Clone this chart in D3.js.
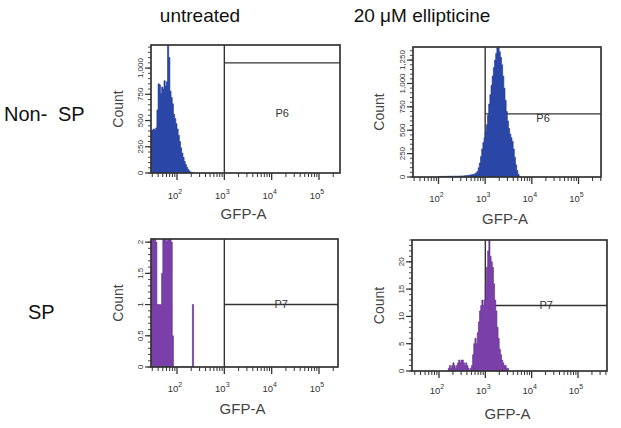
<!DOCTYPE html>
<html>
<head>
<meta charset="utf-8">
<script src="https://cdn.jsdelivr.net/npm/d3@7"></script>
<style>
  body { margin: 0; background: #fff; }
  svg { display: block; font-family: "Liberation Sans", Arial, sans-serif; }
</style>
</head>
<body>
<div id="chart"></div>
<script>
// headers
const colHeaders = ["untreated", "20 \u03bcM ellipticine"];
const rowHeaders = ["Non- SP", "SP"];

// histograms: counts per log10(GFP-A) bin of width binStep, starting at *Start
const binStep = 0.025;

const tlStart = 1.45;
const tlCounts = [400, 410, 420, 410, 430, 600, 850, 840, 760, 820, 800, 880, 830, 870,
  1230, 1100, 780, 720, 660, 560, 520, 470, 420, 360, 300, 240, 190, 150, 110, 80, 55, 35, 20, 10, 5, 2, 0];

const trStart = 2.0;
const trCounts = [5, 6, 5, 8, 6, 7, 8, 6, 9, 8, 7, 9, 8, 10, 9, 8, 10, 9, 11, 10, 12,
  12, 14, 15, 16, 18, 20, 22, 25, 28, 30, 35,
  45, 60, 100, 150, 220, 300, 370, 420, 480, 560, 660, 780, 880, 980, 1080, 1170, 1250, 1320, 1380,
  1390, 1340, 1280, 1200, 1080, 950, 820, 700, 600, 520, 460, 420, 380, 300, 210, 130, 70, 30, 10, 0];

const blStart = 1.45;
const blCounts = [3, 3, 3, 2.2, 2, 1, 1, 1, 1, 1.5, 3, 3, 3, 2, 3, 3, 3, 2, 0.5, 0,
  0, 0, 0, 0, 0, 0, 0, 0, 0, 0, 0, 0, 0, 0, 0, 1, 0];

const brStart = 2.2;
const brCounts = [0.5, 1, 0.5, 1, 1.5, 1, 0.5, 1, 1.5, 2, 1.5, 2, 2, 1.5, 1, 1.5, 1, 0.5, 0, 0.5,
  1, 3, 5, 6, 5, 7, 9, 11, 12, 13, 12, 13, 16, 19, 22, 24, 21, 20, 19, 16, 13, 11, 8, 6, 4, 3,
  2, 1.5, 1, 1, 0.5, 0.5, 0];

// axis ticks
const xMajor = [1e2, 1e3, 1e4, 1e5];
const tlYTicks = [0, 250, 500, 750, 1000];
const trYTicks = [0, 250, 500, 750, 1000, 1250];
const blYTicks = [0, 0.5, 1, 1.5, 2];
const brYTicks = [0, 5, 10, 15, 20];

// gates: label, lower GFP-A bound, level in counts
const gateNames = ["P6", "P6", "P7", "P7"];
const gateLow = [1000, 1000, 1000, 1000];
const gateLevel = [1050, 675, 1, 12];

const W = 621, H = 428;
const svg = d3.select("#chart").append("svg")
  .attr("width", W).attr("height", H)
  .attr("viewBox", [0, 0, W, H]);

// column / row headers
svg.append("text").text(colHeaders[0])
  .attr("x", 200).attr("y", 22).attr("text-anchor", "middle")
  .attr("font-size", 19).attr("fill", "#111");
svg.append("text").text(colHeaders[1])
  .attr("x", 422).attr("y", 22).attr("text-anchor", "middle")
  .attr("font-size", 19).attr("fill", "#111");
svg.append("text").text(rowHeaders[0])
  .attr("x", 4).attr("y", 121)
  .attr("font-size", 20).attr("word-spacing", 5).attr("fill", "#111");
svg.append("text").text(rowHeaders[1])
  .attr("x", 28).attr("y", 319)
  .attr("font-size", 20).attr("fill", "#111");

const panels = [
  { id: "tl", start: tlStart, counts: tlCounts, yTicks: tlYTicks, yMax: 1220, yMinor: 50,
    left: 151, right: 340, top: 45, bottom: 173, p2: 177, p5: 319, fill: "#2a47a8", edge: "#1e3690",
    gate: 0, labelY: 117, tickY: 199, titleY: 219, countX: 118 },
  { id: "tr", start: trStart, counts: trCounts, yTicks: trYTicks, yMax: 1390, yMinor: 50,
    left: 413, right: 601, top: 47, bottom: 177, p2: 438.5, p5: 578.5, fill: "#2a47a8", edge: "#1e3690",
    gate: 1, labelY: 122, tickY: 202, titleY: 224, countX: 379 },
  { id: "bl", start: blStart, counts: blCounts, yTicks: blYTicks, yMax: 2.05, yMinor: 0.1,
    left: 151, right: 338, top: 239, bottom: 367, p2: 177, p5: 319, fill: "#7a3fa8", edge: "#5b2a85",
    gate: 2, labelY: 308, tickY: 392, titleY: 414, countX: 118 },
  { id: "br", start: brStart, counts: brCounts, yTicks: brYTicks, yMax: 24, yMinor: 1,
    left: 412, right: 607, top: 240, bottom: 371, p2: 439, p5: 578, fill: "#7a3fa8", edge: "#5b2a85",
    gate: 3, labelY: 309, tickY: 394, titleY: 419, countX: 379 }
];

panels.forEach(p => drawPanel(svg.append("g"), p));

function drawPanel(g, p) {
  // log x scale pinned at the 10^2 and 10^5 labels, then widened to the frame
  const x0 = d3.scaleLog().domain([1e2, 1e5]).range([p.p2, p.p5]);
  const x = d3.scaleLog().domain([x0.invert(p.left), x0.invert(p.right)]).range([p.left, p.right]);
  const y = d3.scaleLinear().domain([0, p.yMax]).range([p.bottom, p.top]);

  g.append("clipPath").attr("id", "clip-" + p.id)
    .append("rect")
    .attr("x", p.left).attr("y", p.top)
    .attr("width", p.right - p.left).attr("height", p.bottom - p.top);

  // gate lines
  const gx = x(gateLow[p.gate]);
  const gy = y(gateLevel[p.gate]);
  g.append("line")
    .attr("x1", gx).attr("x2", gx).attr("y1", p.top).attr("y2", p.bottom)
    .attr("stroke", "#333").attr("stroke-width", 1.4);
  g.append("line")
    .attr("x1", gx).attr("x2", p.right).attr("y1", gy).attr("y2", gy)
    .attr("stroke", "#333").attr("stroke-width", 1.4);

  // histogram
  const pts = p.counts.map((c, i) => ({ v: Math.pow(10, p.start + i * binStep), c: c }));
  const area = d3.area()
    .x(d => x(d.v))
    .y0(y(0))
    .y1(d => y(d.c))
    .curve(d3.curveStepAfter);
  g.append("path")
    .datum(pts)
    .attr("clip-path", "url(#clip-" + p.id + ")")
    .attr("d", area)
    .attr("fill", p.fill)
    .attr("stroke", p.edge)
    .attr("stroke-width", 0.6);

  // gate label
  const lo = Math.log10(gateLow[p.gate]), hi = Math.log10(x.domain()[1]);
  g.append("text").text(gateNames[p.gate])
    .attr("x", x(Math.pow(10, (lo + hi) / 2)))
    .attr("y", p.labelY)
    .attr("text-anchor", "middle")
    .attr("font-size", 11).attr("fill", "#333");

  // frame
  g.append("rect")
    .attr("x", p.left).attr("y", p.top)
    .attr("width", p.right - p.left).attr("height", p.bottom - p.top)
    .attr("fill", "none").attr("stroke", "#333").attr("stroke-width", 1.7);

  // x ticks: decades plus 2..9 minor
  const [d0, d1] = x.domain();
  const minor = [];
  for (let e = 1; e <= 5; e++) {
    for (let m = 2; m <= 9; m++) {
      const v = m * Math.pow(10, e);
      if (v >= d0 && v <= d1) minor.push(v);
    }
  }
  g.selectAll(".xminor").data(minor).enter().append("line")
    .attr("x1", d => x(d)).attr("x2", d => x(d))
    .attr("y1", p.bottom).attr("y2", p.bottom + 4)
    .attr("stroke", "#333").attr("stroke-width", 1);
  g.selectAll(".xmajor").data(xMajor).enter().append("line")
    .attr("x1", d => x(d)).attr("x2", d => x(d))
    .attr("y1", p.bottom).attr("y2", p.bottom + 7)
    .attr("stroke", "#333").attr("stroke-width", 1.3);
  const xl = g.selectAll(".xlab").data(xMajor).enter().append("text")
    .attr("x", d => x(d) - 2).attr("y", p.tickY)
    .attr("text-anchor", "middle")
    .attr("font-size", 9.5).attr("fill", "#333");
  xl.append("tspan").text("10");
  xl.append("tspan").text(d => Math.round(Math.log10(d)))
    .attr("dy", -5).attr("font-size", 7);

  g.append("text").text("GFP-A")
    .attr("x", (p.left + p.right) / 2 - 2).attr("y", p.titleY)
    .attr("text-anchor", "middle")
    .attr("font-size", 15).attr("fill", "#444");

  // y ticks
  const yMinorTicks = d3.range(0, p.yMax + 1e-9, p.yMinor);
  g.selectAll(".yminor").data(yMinorTicks).enter().append("line")
    .attr("x1", p.left - 3).attr("x2", p.left)
    .attr("y1", d => y(d)).attr("y2", d => y(d))
    .attr("stroke", "#333").attr("stroke-width", 0.9);
  g.selectAll(".ymajor").data(p.yTicks).enter().append("line")
    .attr("x1", p.left - 6).attr("x2", p.left)
    .attr("y1", d => y(d)).attr("y2", d => y(d))
    .attr("stroke", "#333").attr("stroke-width", 1.2);
  const fmt = d3.format(",");
  g.selectAll(".ylab").data(p.yTicks).enter().append("text")
    .text(d => fmt(d))
    .attr("transform", d => `translate(${p.left - 8},${y(d)}) rotate(-90)`)
    .attr("text-anchor", "middle")
    .attr("font-size", 8).attr("fill", "#333");

  g.append("text").text("Count")
    .attr("transform", `translate(${p.countX + 5},${(p.top + p.bottom) / 2}) rotate(-90)`)
    .attr("text-anchor", "middle")
    .attr("font-size", 14).attr("fill", "#444");
}
</script>
</body>
</html>
